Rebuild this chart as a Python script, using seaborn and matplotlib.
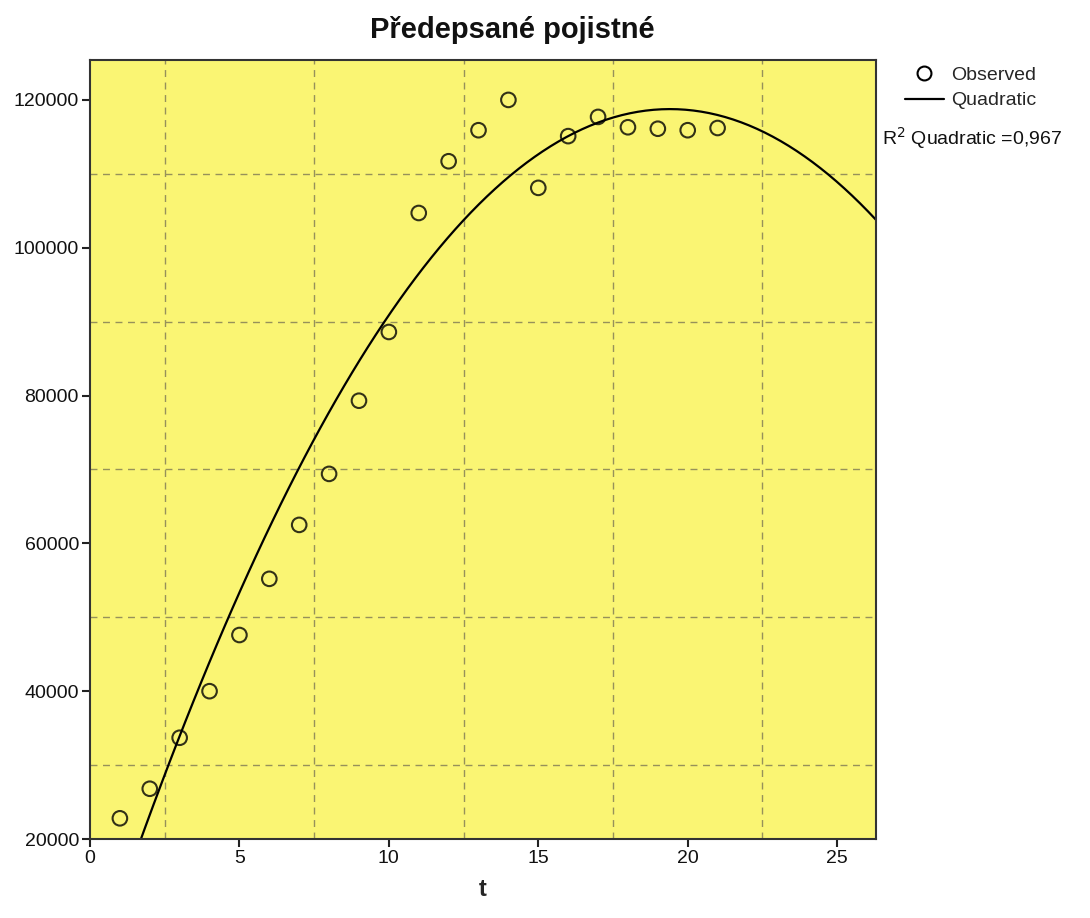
import numpy as np
import pandas as pd
import matplotlib
matplotlib.use("Agg")
import matplotlib.pyplot as plt
from matplotlib.lines import Line2D
import seaborn as sns

# data
t = [1, 2, 3, 4, 5, 6, 7, 8, 9, 10, 11, 12, 13, 14, 15, 16, 17, 18, 19, 20, 21]
premium = [22800, 26800, 33700, 40000, 47600, 55200, 62500, 69400, 79300, 88600,
           104700, 111700, 115900, 120000, 108100, 115100, 117700, 116300, 116100, 115900, 116200]
x_ticks = [0, 5, 10, 15, 20, 25]
y_ticks = [20000, 40000, 60000, 80000, 100000, 120000]
x_grid = [2.5, 7.5, 12.5, 17.5, 22.5]
y_grid = [30000, 50000, 70000, 90000, 110000]
title = "Předepsané pojistné"
legend_labels = ["Observed", "Quadratic"]
r2_label = "R$^2$ Quadratic =0,967"

df = pd.DataFrame({"t": t, "premium": premium})

sns.set_style("white")
plt.rcParams["font.family"] = ["Liberation Sans", "DejaVu Sans"]

fig = plt.figure(figsize=(10.9, 9.18), dpi=100)
ax = fig.add_axes([90 / 1090, 1 - 839 / 918, (876 - 90) / 1090, (839 - 60) / 918])
ax.set_facecolor("#FAF573")
ax.set_xlim(0, 26.3)
ax.set_ylim(20000, 125400)

sns.regplot(data=df, x="t", y="premium", order=2, ci=None, truncate=False, ax=ax,
            scatter_kws=dict(s=110, facecolors="none", edgecolors="black", linewidths=1.5,
                             zorder=3),
            line_kws=dict(color="black", lw=1.6, zorder=2))

ax.set_xlim(0, 26.3)
ax.set_ylim(20000, 125400)

for g in x_grid:
    ax.axvline(g, color="#96915a", lw=1, ls=(0, (5, 4)), zorder=1)
for g in y_grid:
    ax.axhline(g, color="#96915a", lw=1, ls=(0, (5, 4)), zorder=1)

ax.set_xticks(x_ticks)
ax.set_yticks(y_ticks)
ax.set_xticklabels([str(v) for v in x_ticks], fontsize=14, color="#111111")
ax.set_yticklabels([str(v) for v in y_ticks], fontsize=14, color="#111111")
ax.tick_params(axis="both", direction="out", length=6, width=1.5, color="#222222", pad=2,
               bottom=True, left=True)
for s in ax.spines.values():
    s.set_color("#333333")
    s.set_linewidth(1.5)

ax.set_xlabel("t", fontsize=17, fontweight="bold", labelpad=8)
ax.set_ylabel("")

fig.text(512 / 1090, 1 - 30 / 918, title, fontsize=21, fontweight="bold",
         ha="center", va="center", color="#111111")

handles = [
    Line2D([], [], ls="none", marker="o", markersize=10, markerfacecolor="none",
           markeredgecolor="black", markeredgewidth=1.5),
    Line2D([], [], color="black", lw=1.6),
]
ax.legend(handles, legend_labels, loc="upper left", bbox_to_anchor=(905 / 1090, 1 - 66 / 918),
          bbox_transform=fig.transFigure, frameon=False, fontsize=14,
          handlelength=2.0, handletextpad=0.35, labelspacing=0.42, borderaxespad=0,
          borderpad=0)
fig.text(882 / 1090, 1 - 138 / 918, r2_label, fontsize=14, ha="left", va="center",
         color="#111111")

fig.savefig("out.png", dpi=100)
